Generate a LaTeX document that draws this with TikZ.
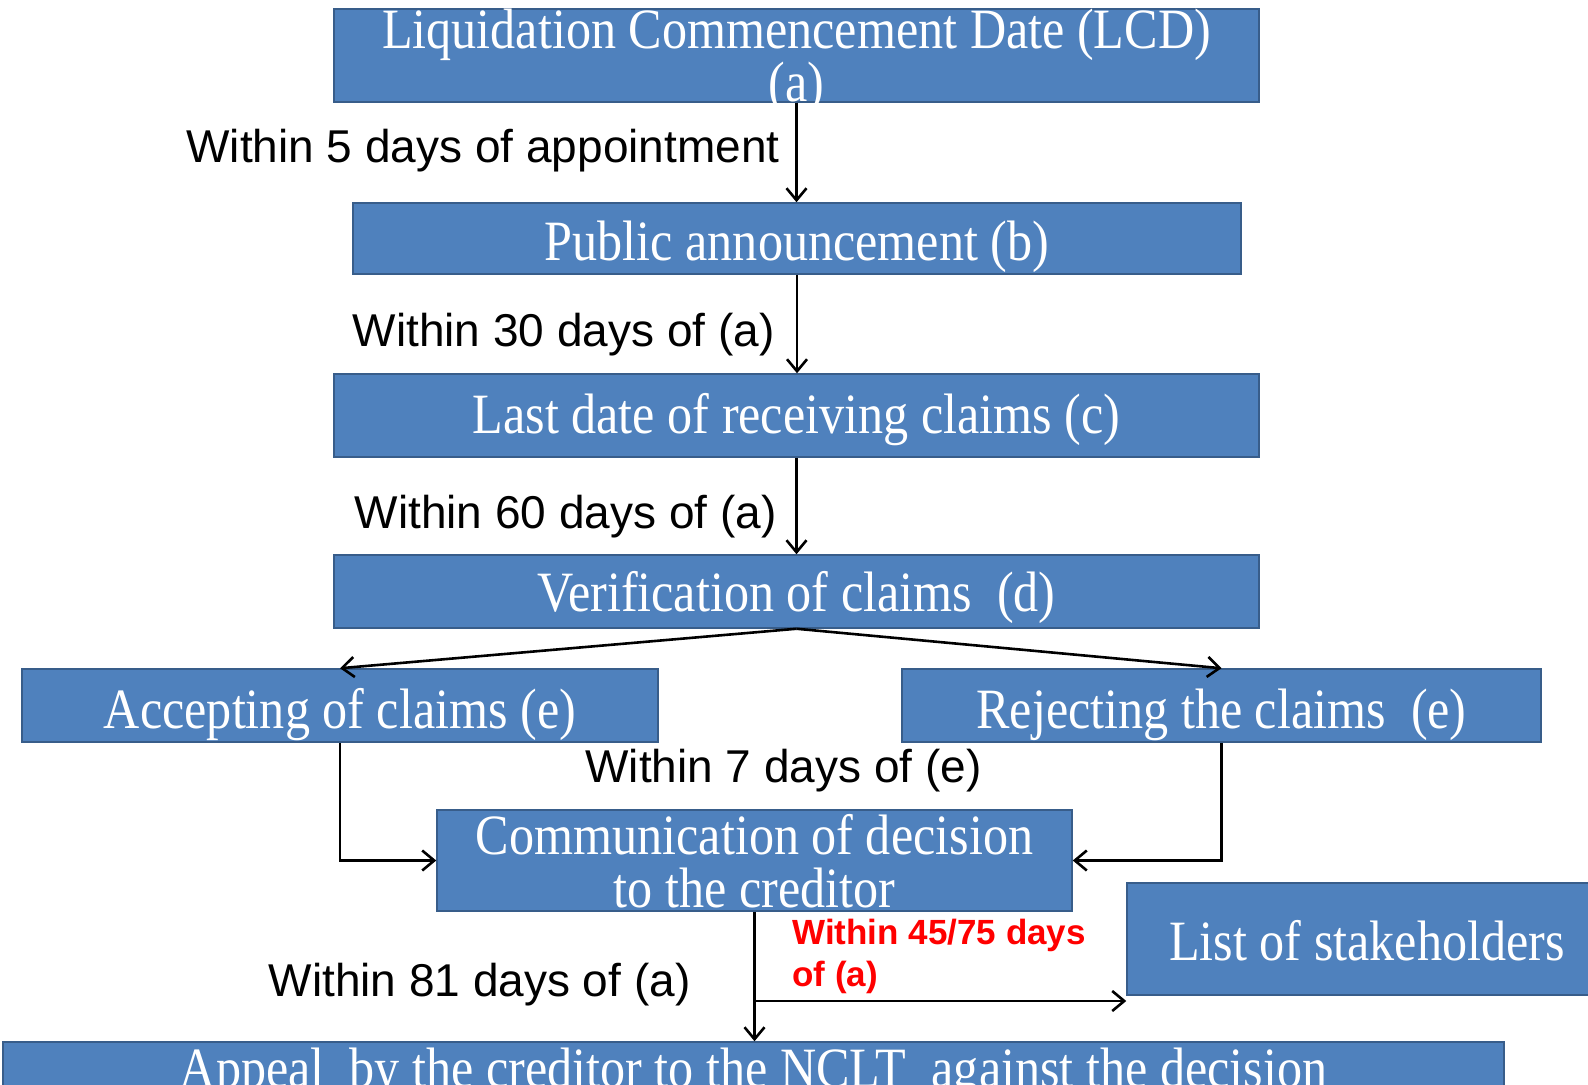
\documentclass[tikz,border=0pt]{standalone}
\usepackage{fontspec}
\usetikzlibrary{arrows.meta}
\setmainfont{Liberation Sans}
\newfontfamily\boxfont[FakeStretch=0.88]{Liberation Serif}
\definecolor{boxfill}{RGB}{79,129,189}
\definecolor{boxline}{RGB}{56,93,138}
\definecolor{redtxt}{RGB}{255,0,0}
\tikzset{
  box/.style={draw=boxline, line width=0.75pt, fill=boxfill, text=white, inner sep=0pt,
    align=center, font=\boxfont\fontsize{28.5}{26.5}\selectfont},
  tdrop/.style={text height=#1, text depth=0pt},
  lbl/.style={inner sep=0pt, yshift=-2.5pt, font=\fontsize{23}{27}\selectfont, text=black},
  redlbl/.style={inner sep=0pt, yshift=-1.5pt, align=left, text=redtxt, font=\bfseries\fontsize{17.5}{21}\selectfont},
  arr/.style={line width=1.3pt, -{Straight Barb[length=6pt,width=10pt]}},
  ln/.style={line width=1.3pt}
}
\begin{document}
\begin{tikzpicture}[x=0.5pt,y=-0.5pt]
\clip (0,0) rectangle (1588,1085);
\fill[white] (0,0) rectangle (1588,1085);
% boxes
\node[box, tdrop=46pt, minimum width=462.5pt, minimum height=46.5pt] (a) at (796.5,55.5) {Liquidation Commencement Date (LCD)\\(a)};
\node[box, tdrop=21.7pt, minimum width=444pt, minimum height=35.5pt] (b) at (797,238.5) {Public announcement (b)};
\node[box, tdrop=17.7pt, minimum width=462.5pt, minimum height=41.5pt] (c) at (796.5,415.5) {Last date of receiving claims (c)};
\node[box, tdrop=19.7pt, minimum width=462.5pt, minimum height=36.5pt] (d) at (796.5,591.5) {Verification of claims\ \ (d)};
\node[box, tdrop=22.7pt, minimum width=318pt, minimum height=36.5pt] (e1) at (340,705.5) {Accepting of claims (e)};
\node[box, tdrop=22.7pt, minimum width=319.5pt, minimum height=36.5pt] (e2) at (1221.5,705.5) {Rejecting the claims\ \ (e)};
\node[box, tdrop=47pt, minimum width=317.5pt, minimum height=50.5pt] (f) at (754.5,860.5) {Communication of decision\\to the creditor};
\node[box, tdrop=21.5pt, minimum width=240pt, minimum height=56pt] (g) at (1367,939) {List of stakeholders};
\node[box, tdrop=13.5pt, minimum width=750.5pt, minimum height=31.5pt] (h) at (753.5,1073.5) {Appeal\ \ by the creditor to the NCLT\ \ against the decision};
% labels
\node[lbl, anchor=east] (l1) at (780,146) {Within 5 days of appointment};
\node[lbl, anchor=east] (l2) at (775,330) {Within 30 days of (a)};
\node[lbl, anchor=east] (l3) at (777,512) {Within 60 days of (a)};
\node[lbl] (l4) at (783.5,766) {Within 7 days of (e)};
\node[lbl] (l5) at (479.5,980) {Within 81 days of (a)};
\node[redlbl, anchor=west] (l6) at (792,953) {Within 45/75 days\\of (a)};
% connectors
\draw[arr] (a.south) -- (a.south |- b.north);
\draw[arr] (b.south) -- (b.south |- c.north);
\draw[arr] (c.south) -- (c.south |- d.north);
\draw[arr] (d.south) -- (e1.north);
\draw[arr] (d.south) -- (e2.north);
\draw[arr] (e1.south) |- (f.west);
\draw[arr] (e2.south) |- (f.east);
\draw[arr] (f.south) -- (f.south |- h.north);
\coordinate (br) at (754.5,1001);
\coordinate (gin) at (g.west |- br);
\draw[arr] (br) -- (gin);
\end{tikzpicture}
\end{document}
